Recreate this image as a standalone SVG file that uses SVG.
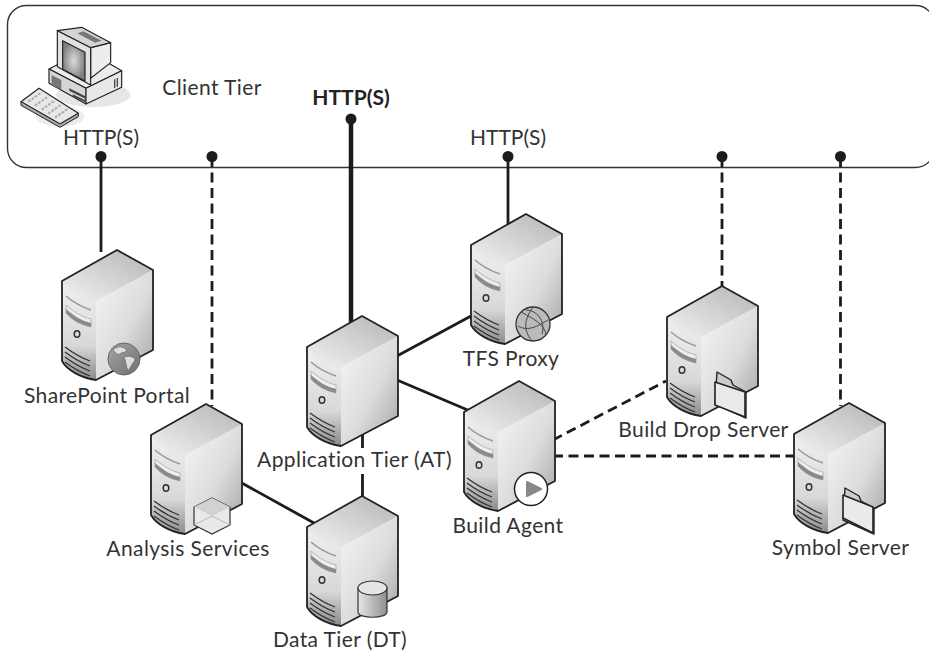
<svg xmlns="http://www.w3.org/2000/svg" width="929" height="654" viewBox="0 0 929 654">
<style>
text{font-family:Lato,"Noto Sans",sans-serif;font-size:21px;letter-spacing:.4px;fill:#333;text-anchor:middle}
.c{fill:none;stroke:#1c1c1c;stroke-width:2.8}
.d{stroke-dasharray:10 5.500}
.dot{fill:#1c1c1c}
</style>
<defs>
<linearGradient id="gt" x1="0" y1="1" x2="1" y2="0"><stop offset="0" stop-color="#f2f2f2"/><stop offset="1" stop-color="#b4b4b4"/></linearGradient>
<linearGradient id="gf" x1="0" y1="0" x2="0" y2="1"><stop offset="0" stop-color="#f0f0f0"/><stop offset=".65" stop-color="#d8d8d8"/><stop offset="1" stop-color="#8a8a8a"/></linearGradient>
<linearGradient id="gr" x1="0" y1="0" x2="1" y2="1"><stop offset="0" stop-color="#f6f6f6"/><stop offset=".55" stop-color="#dcdcdc"/><stop offset="1" stop-color="#a2a2a2"/></linearGradient>
<radialGradient id="gs"><stop offset="0" stop-color="#dcdcdc"/><stop offset="1" stop-color="#7f7f7f"/></radialGradient>
<linearGradient id="gc" x1="0" y1="0" x2="1" y2="0"><stop offset="0" stop-color="#e6e6e6"/><stop offset="1" stop-color="#8f8f8f"/></linearGradient>
<linearGradient id="gg" x1="0" y1="0" x2="1" y2="1"><stop offset="0" stop-color="#a6a6a6"/><stop offset="1" stop-color="#6f6f6f"/></linearGradient>
<g id="server">
<path d="M0 0L36 20V100L-21 130C-36 128-50 120-55 111V31Z" fill="#ddd"/>
<path d="M0 0L36 20L-21 51C-33 49-47 42-55 31Z" fill="url(#gt)"/>
<path d="M-55 31C-47 42-33 49-21 51V130C-36 128-50 120-55 111Z" fill="url(#gf)"/>
<path d="M-21 51L36 20V100L-21 130Z" fill="url(#gr)"/>
<path d="M0 0L36 20V100L-21 130C-36 128-50 120-55 111V31Z" fill="none" stroke="#222" stroke-width="1.800" stroke-linejoin="round"/>
<path d="M-51 46C-43 53-35 57-26 60" fill="none" stroke="#999" stroke-width="1.600"/>
<path d="M-51 55C-43 62-35 67-26 69V77C-36 75-45 70-51 63Z" fill="#eee" stroke="#aaa" stroke-width=".8"/>
<path d="M-51 59C-43 66-35 71-26 73V77C-36 75-45 70-51 63Z" fill="#8a8a8a"/>
<ellipse cx="-40" cy="84" rx="2.800" ry="3.300" fill="none" stroke="#333" stroke-width="1.500"/>
<path d="M-52 97C-44 103-35 108-27 111M-52 102C-44 108-35 113-27 116M-52 107C-44 113-35 118-27 121M-52 112C-44 118-35 123-27 126" fill="none" stroke="#333" stroke-width="1.300"/>
</g>
</defs>

<rect id="client-tier-box" x="7.500" y="5.500" width="927" height="162" rx="19" fill="#fff" stroke="#333" stroke-width="1.400"/>

<g id="connectors">
<path class="c" d="M101 157V252"/>
<path class="c d" d="M212 157V406"/>
<path class="c" style="stroke-width:4.500" d="M351 119V324"/>
<path class="c" d="M508 157V226"/>
<path class="c d" d="M722 157V287"/>
<path class="c d" d="M840.500 157V406"/>
<path class="c" d="M397 356L471 316"/>
<path class="c" d="M397 380L470 411"/>
<path class="c" d="M362.500 433V448M362.500 474V497"/>
<path class="c" d="M240 482L314 523"/>
<path class="c d" d="M553 440L666 381"/>
<path class="c d" d="M553 456L795 456"/>
<circle class="dot" cx="101" cy="156.500" r="5.500"/>
<circle class="dot" cx="212" cy="156.500" r="5.500"/>
<circle class="dot" cx="351" cy="119" r="5.500"/>
<circle class="dot" cx="508" cy="156.500" r="5.500"/>
<circle class="dot" cx="722" cy="156.500" r="5.500"/>
<circle class="dot" cx="840.500" cy="156.500" r="5.500"/>
</g>

<g id="client-tier">
<g transform="scale(.3333)" stroke-linejoin="round">
<ellipse cx="280" cy="285" rx="112" ry="36" fill="#e6e6e6"/>
<ellipse cx="180" cy="350" rx="72" ry="30" fill="#ececec"/>
<path d="M147 207L258 150L365 212L258 265Z" fill="#ececec" stroke="#222" stroke-width="3.500"/>
<path d="M147 207L258 265V312L147 250Z" fill="#d6d6d6" stroke="#222" stroke-width="3.500"/>
<path d="M258 265L365 212V262L258 312Z" fill="#e8e8e8" stroke="#222" stroke-width="3.500"/>
<path d="M155 225L184 240V270L155 254Z" fill="#777"/>
<path d="M208 265L256 289V296L208 272Z M218 289L256 307V301L218 283Z" fill="#444"/>
<path d="M344 238V264M352 234V260" stroke="#444" stroke-width="4"/>
<path d="M272 143L332 128V188L272 235Z" fill="#ededed" stroke="#222" stroke-width="3.500"/>
<path d="M172 92L245 82L332 128L272 143Z" fill="#d4d4d4" stroke="#222" stroke-width="3.500"/>
<path d="M250 94L305 122L285 128L232 100Z" fill="#777"/>
<path d="M172 92L272 143V255L172 200Z" fill="#e2e2e2" stroke="#222" stroke-width="3.500"/>
<path d="M188 122L255 157V243L188 208Z" fill="url(#gs)" stroke="#222" stroke-width="3.500"/>
<path d="M63 305L117 265L235 340L180 372Z" fill="#e8e8e8" stroke="#222" stroke-width="3.500"/>
<path d="M63 305V316L180 382L235 350V340L180 372Z" fill="#aaa" stroke="#222" stroke-width="3"/>
<path d="M85 305L125 277M105 317L145 289M125 329L165 301M145 341L185 313M165 353L205 325" stroke="#aaa" stroke-width="6" stroke-dasharray="8 4" fill="none"/>
</g>
<text x="212" y="94.500">Client Tier</text>
</g>

<text id="http-left" x="101" y="144.500" style="letter-spacing:0">HTTP(S)</text>
<text id="http-center" x="351" y="105" style="font-weight:700;letter-spacing:0;fill:#222">HTTP(S)</text>
<text id="http-right" x="508" y="144.500" style="letter-spacing:0">HTTP(S)</text>

<g id="sharepoint-portal">
<use href="#server" x="117" y="250"/>
<circle cx="124" cy="359" r="16" fill="url(#gg)" stroke="#666"/>
<path d="M113 350C118 345 124 346 127 351C124 353 122 352 120 354C117 355 116 353 113 350ZM124 357C129 355 135 357 135 360C133 363 131 366 128 371C126 367 126 361 124 357Z" fill="#ddd" stroke="#666" stroke-width=".7"/>
<text x="107" y="403">SharePoint Portal</text>
</g>

<g id="analysis-services">
<use href="#server" x="206" y="404"/>
<path d="M212 498L230 507V525L212 534L194 525V507Z" fill="#e9e9e9" stroke="#333" stroke-width="1.200"/>
<path d="M194 507L212 498L230 507L212 516Z" fill="#d2d2d2"/>
<path d="M194 525L212 516L230 525" fill="none" stroke="#aaa" stroke-width=".8"/>
<text x="188" y="556">Analysis Services</text>
</g>

<g id="application-tier">
<use href="#server" x="362" y="316"/>
<text x="354.500" y="467">Application Tier (AT)</text>
</g>

<g id="data-tier">
<use href="#server" x="362" y="496"/>
<path d="M358 588V612C358 619 387 619 387 612V588Z" fill="url(#gc)" stroke="#333" stroke-width="1.200"/>
<ellipse cx="372.500" cy="588" rx="14.500" ry="7" fill="#e4e4e4" stroke="#333" stroke-width="1.200"/>
<text x="340" y="647">Data Tier (DT)</text>
</g>

<g id="tfs-proxy">
<use href="#server" x="526" y="214"/>
<circle cx="533" cy="324" r="17" fill="#bbb" stroke="#333" stroke-width="1.300"/>
<path d="M521 312C532 318 545 324 546 335M533 307C524 320 523 330 532 341M518 326C528 332 538 326 548 320M526 310C536 310 546 320 542 334" fill="none" stroke="#444"/>
<text x="511" y="366">TFS Proxy</text>
</g>

<g id="build-agent">
<use href="#server" x="519" y="381"/>
<circle cx="531" cy="489" r="16.500" fill="#fff" stroke="#222" stroke-width="1.500"/>
<path d="M527 482L541 489L527 496Z" fill="#888" stroke="#888" stroke-width="2" stroke-linejoin="round"/>
<text x="508" y="533">Build Agent</text>
</g>

<g id="build-drop-server">
<use href="#server" x="722" y="286"/>
<path d="M717 372L731 380L733 385L746 392V418L715 404Z" fill="#ccc" stroke="#222" stroke-width="1.400" stroke-linejoin="round"/>
<path d="M715 382L745 392V417L715 405Z" fill="#eaeaea" stroke="#222" stroke-width="1.600" stroke-linejoin="round"/>
<text x="703.500" y="437">Build Drop Server</text>
</g>

<g id="symbol-server">
<use href="#server" x="849" y="403"/>
<path d="M845 488L859 496L861 501L874 508V534L843 520Z" fill="#ccc" stroke="#222" stroke-width="1.400" stroke-linejoin="round"/>
<path d="M843 495L873 507V533L843 518Z" fill="#eaeaea" stroke="#222" stroke-width="1.600" stroke-linejoin="round"/>
<text x="840.500" y="555">Symbol Server</text>
</g>
</svg>
